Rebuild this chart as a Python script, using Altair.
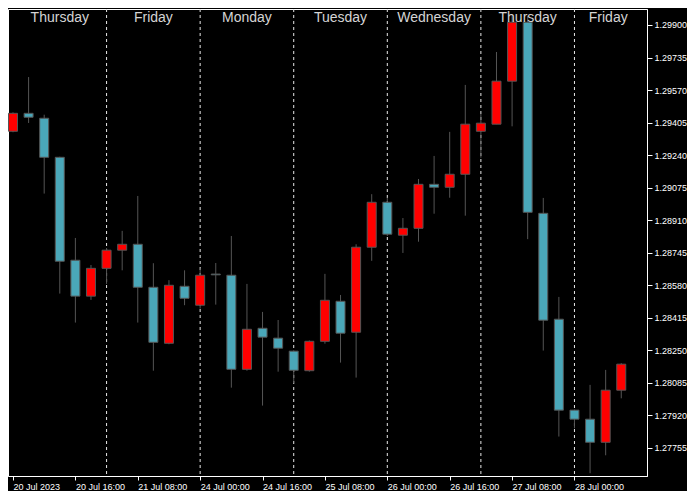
import altair as alt
import pandas as pd

# H4 candles, index 0 = 20 Jul 2023 00:00
opens = [1.29361, 1.29452, 1.29427, 1.29229, 1.28707, 1.28525, 1.28666, 1.28758, 1.28788, 1.28570,
         1.28286, 1.28575, 1.28479, 1.28637, 1.28631, 1.28154, 1.28362, 1.28312, 1.28246, 1.28147,
         1.28296, 1.28499, 1.28342, 1.28773, 1.29001, 1.28834, 1.28869, 1.29092, 1.29077, 1.29143,
         1.29361, 1.29397, 1.29615, 1.29914, 1.28945, 1.28408, 1.27947, 1.27901, 1.27784, 1.28048]
highs = [1.29457, 1.29636, 1.29445, 1.29232, 1.28820, 1.28683, 1.28769, 1.28856, 1.29033, 1.28692,
         1.28606, 1.28656, 1.28666, 1.28693, 1.28830, 1.28587, 1.28445, 1.28404, 1.28250, 1.28300,
         1.28638, 1.28531, 1.28788, 1.29042, 1.29024, 1.28921, 1.29119, 1.29236, 1.29358, 1.29596,
         1.29449, 1.29763, 1.29951, 1.29946, 1.29023, 1.28521, 1.27950, 1.28075, 1.28151, 1.28185]
lows = [1.29356, 1.29403, 1.29045, 1.28538, 1.28391, 1.28506, 1.28587, 1.28656, 1.28391, 1.28147,
        1.28281, 1.28479, 1.28462, 1.28482, 1.28061, 1.28147, 1.27970, 1.28142, 1.28083, 1.28142,
        1.28284, 1.28188, 1.28112, 1.28704, 1.28830, 1.28744, 1.28801, 1.28943, 1.29024, 1.28933,
        1.29227, 1.29397, 1.29386, 1.28814, 1.28249, 1.27813, 1.27855, 1.27627, 1.27718, 1.28007]
closes = [1.29452, 1.29432, 1.29229, 1.28702, 1.28525, 1.28666, 1.28758, 1.28788, 1.28570, 1.28291,
          1.28580, 1.28514, 1.28631, 1.28633, 1.28154, 1.28357, 1.28317, 1.28261, 1.28149, 1.28296,
          1.28504, 1.28337, 1.28773, 1.29001, 1.28839, 1.28869, 1.29092, 1.29077, 1.29143, 1.29397,
          1.29402, 1.29615, 1.29914, 1.28950, 1.28403, 1.27947, 1.27901, 1.27784, 1.28048, 1.28180]

x_tick_idx = [0, 4, 8, 12, 16, 20, 24, 28, 32, 36]
x_tick_labels = ["20 Jul 2023", "20 Jul 16:00", "21 Jul 08:00", "24 Jul 00:00", "24 Jul 16:00",
                 "25 Jul 08:00", "26 Jul 00:00", "26 Jul 16:00", "27 Jul 08:00", "28 Jul 00:00"]
y_ticks = [1.29900, 1.29735, 1.29570, 1.29405, 1.29240, 1.29075, 1.28910, 1.28745,
           1.28580, 1.28415, 1.28250, 1.28085, 1.27920, 1.27755]
day_names = ["Thursday", "Friday", "Monday", "Tuesday", "Wednesday", "Thursday", "Friday"]
day_start = [0, 6, 12, 18, 24, 30, 36]

X_MAX = 40.33
Y_MIN, Y_MAX = 1.27613, 1.29981

UP = "#ff0000"
DOWN = "#4aa7b9"
EDGE = "#555555"
FONT = "Liberation Sans"

df = pd.DataFrame({"i": list(range(len(opens))), "open": opens, "high": highs,
                   "low": lows, "close": closes})
df["dir"] = ["up" if c > o else "down" for o, c in zip(opens, closes)]

days = pd.DataFrame({
    "name": day_names,
    "mid": [(s + min(s + 6, X_MAX)) / 2 for s in day_start],
})
seps = pd.DataFrame({"i": day_start[1:]})

label_expr = "[" + ",".join("'%s'" % t for t in x_tick_labels) + "][round(datum.value/4)]"

xscale = alt.Scale(domain=[0, X_MAX], nice=False, zero=False)
yscale = alt.Scale(domain=[Y_MIN, Y_MAX], nice=False, zero=False)
xaxis = alt.Axis(values=x_tick_idx, labelExpr=label_expr, labelAlign="left", labelBaseline="top",
                 tickSize=4, labelPadding=2, labelFont=FONT, labelFontSize=9, labelColor="#ffffff",
                 tickColor="#ffffff", domainColor="#ffffff", grid=False, title=None,
                 labelFlush=False, labelOverlap=False)
yaxis = alt.Axis(orient="right", values=y_ticks, format=".5f", tickSize=5, labelPadding=2,
                 labelFont=FONT, labelFontSize=9, labelColor="#ffffff", tickColor="#ffffff",
                 domainColor="#ffffff", grid=False, title=None, labelOverlap=False)

sep_layer = alt.Chart(seps).mark_rule(color="#e8e8e8", strokeDash=[3, 3], strokeWidth=1).encode(
    x=alt.X("i:Q", scale=xscale, axis=xaxis)
)

wick = alt.Chart(df).mark_rule(color=EDGE, strokeWidth=1, clip=True).encode(
    x=alt.X("i:Q", scale=xscale, axis=xaxis),
    y=alt.Y("low:Q", scale=yscale, axis=yaxis),
    y2="high:Q",
)

body = alt.Chart(df).mark_bar(size=9, stroke=EDGE, strokeWidth=1, clip=True).encode(
    x=alt.X("i:Q", scale=xscale, axis=xaxis),
    y=alt.Y("open:Q", scale=yscale, axis=yaxis),
    y2="close:Q",
    color=alt.Color("dir:N", scale=alt.Scale(domain=["up", "down"], range=[UP, DOWN]), legend=None),
)

day_text = alt.Chart(days).mark_text(font=FONT, fontSize=14, color="#d4d4d4",
                                     baseline="alphabetic", align="center").encode(
    x=alt.X("mid:Q", scale=xscale, axis=xaxis),
    y=alt.value(13),
    text="name:N",
)

chart = alt.layer(sep_layer, wick, body, day_text).properties(
    width=639, height=467, background="#000000", padding=0
).configure_view(stroke="#ffffff", strokeWidth=1)

chart.save("out.html", embed_options={"renderer": "svg", "actions": False})
